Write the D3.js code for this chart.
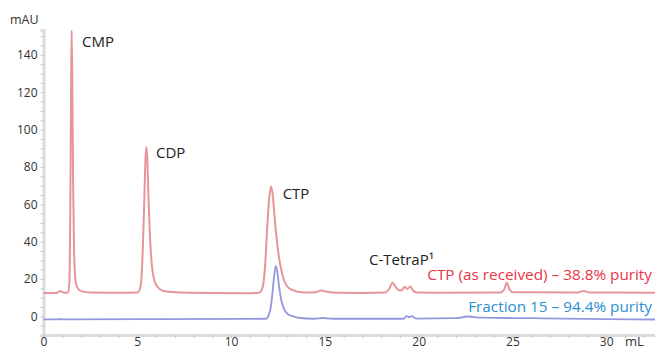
<!DOCTYPE html>
<html>
<head>
<meta charset="utf-8">
<script src="https://cdn.jsdelivr.net/npm/d3@7"></script>
<style>
  body { margin: 0; background: #fff; }
  svg text { font-family: "Open Sans", "Noto Sans", sans-serif; }
</style>
</head>
<body>
<svg id="chart" width="655" height="350"></svg>
<script>
// chromatogram traces: [mL, mAU]
var receivedTrace = [
    [0, 12.5], [0.7, 12.5], [0.85, 13.4], [0.95, 13.3], [1.1, 12.6], [1.3, 12.8],
    [1.38, 18], [1.43, 60], [1.47, 120], [1.5, 153], [1.54, 120], [1.58, 70],
    [1.63, 35], [1.7, 20], [1.8, 15.5], [2.0, 13.5], [2.5, 12.8], [4.0, 12.6],
    [5.0, 12.8], [5.12, 14], [5.22, 20], [5.3, 38], [5.38, 65], [5.44, 85],
    [5.48, 90.5], [5.53, 85], [5.6, 62], [5.68, 42], [5.78, 27], [5.9, 19.5],
    [6.1, 15.5], [6.4, 13.6], [7.0, 12.9], [9.0, 12.5], [11.0, 12.4], [11.5, 12.6],
    [11.65, 14.5], [11.8, 25], [11.93, 48], [12.03, 63], [12.13, 69.5], [12.22, 65],
    [12.33, 52], [12.48, 37], [12.65, 26], [12.85, 18.5], [13.1, 15], [13.5, 13.3],
    [14.0, 12.7], [14.5, 12.9], [14.8, 13.8], [15.1, 13.2], [15.6, 12.6], [17.0, 12.5],
    [18.2, 12.7], [18.45, 15], [18.6, 18], [18.75, 16.2], [18.95, 14], [19.1, 14],
    [19.25, 15.8], [19.4, 14.6], [19.55, 16], [19.7, 13.8], [19.9, 12.7], [21.0, 12.6],
    [24.35, 12.7], [24.55, 14.2], [24.7, 18], [24.85, 14.2], [25.05, 12.9], [28.5, 12.8],
    [28.8, 13.6], [29.1, 12.8], [30.5, 12.8], [32.6, 12.6]
];

var fractionTrace = [
    [0, -1.6], [0.85, -1.6], [0.92, -1.2], [1.0, -1.6], [6.0, -1.5], [11.0, -1.4],
    [11.85, -1.3], [12.0, 0.5], [12.12, 5], [12.22, 14], [12.3, 22], [12.38, 27],
    [12.46, 24], [12.56, 16], [12.68, 8.5], [12.82, 4], [13.0, 1.5], [13.3, 0],
    [13.7, -0.9], [14.4, -1.3], [14.9, -0.9], [15.4, -1.3], [19.2, -1.3], [19.35, 0.1],
    [19.5, -0.4], [19.65, 0.1], [19.85, -1.2], [22.0, -1.0], [22.6, -0.1], [23.3, -0.7],
    [26.0, -1.0], [30.0, -1.5], [32.6, -1.7]
];

var yTicks = [0, 20, 40, 60, 80, 100, 120, 140];
var xTicks = [0, 5, 10, 15, 20, 25, 30];

var peakLabels = [
    { text: "CMP", x: 2.05, y: 144 },
    { text: "CDP", x: 6.0, y: 85 },
    { text: "CTP", x: 12.75, y: 63 },
    { text: "C-TetraP\u00b9", x: 17.35, y: 27.5 }
];

var seriesLabels = [
    { text: "CTP (as received) \u2013 38.8% purity", y: 19.5, color: "#e8353f" },
    { text: "Fraction 15 \u2013 94.4% purity", y: 2.3, color: "#2a8fd0" }
];

var svg = d3.select("#chart");

var x = d3.scaleLinear().domain([0, 32.6]).range([43.5, 655]);
var y = d3.scaleLinear().domain([-10, 153.3]).range([335, 30]);

// minor ticks
svg.append("g")
    .attr("transform", "translate(43.5,0)")
    .call(d3.axisLeft(y).tickValues(d3.range(-5, 151, 5)).tickSize(3).tickFormat(""))
    .call(function (g) {
        g.select(".domain").attr("stroke", "#dcdcdc").attr("stroke-width", 3);
        g.selectAll(".tick line").attr("stroke", "#c4c4c4");
    });

svg.append("g")
    .attr("transform", "translate(0,335)")
    .call(d3.axisBottom(x).tickValues(d3.range(0, 33, 1)).tickSize(3).tickFormat(""))
    .call(function (g) {
        g.select(".domain").attr("stroke", "#dcdcdc").attr("stroke-width", 3);
        g.selectAll(".tick line").attr("stroke", "#c4c4c4");
    });

// labelled ticks
svg.append("g")
    .attr("transform", "translate(43.5,0)")
    .call(d3.axisLeft(y).tickValues(yTicks).tickSize(0).tickPadding(6))
    .call(function (g) {
        g.select(".domain").remove();
        g.selectAll("text").attr("font-size", 12).attr("fill", "#333")
            .attr("font-family", "Open Sans, sans-serif");
    });

svg.append("g")
    .attr("transform", "translate(0,335)")
    .call(d3.axisBottom(x).tickValues(xTicks).tickSize(0).tickPadding(2))
    .call(function (g) {
        g.select(".domain").remove();
        g.selectAll("text").attr("font-size", 12).attr("fill", "#333")
            .attr("font-family", "Open Sans, sans-serif");
    });

svg.append("text")
    .attr("x", 10).attr("y", 24)
    .attr("font-size", 12.5).attr("fill", "#333")
    .text("mAU");

svg.append("text")
    .attr("x", 625).attr("y", 346)
    .attr("font-size", 13).attr("fill", "#333")
    .text("mL");

var line = d3.line()
    .x(function (d) { return x(d[0]); })
    .y(function (d) { return y(d[1]); })
    .curve(d3.curveMonotoneX);

svg.append("path")
    .datum(receivedTrace)
    .attr("d", line)
    .attr("fill", "none")
    .attr("stroke", "#e6959a")
    .attr("stroke-width", 2)
    .attr("stroke-linejoin", "round");

svg.append("path")
    .datum(fractionTrace)
    .attr("d", line)
    .attr("fill", "none")
    .attr("stroke", "#9597dc")
    .attr("stroke-width", 1.8)
    .attr("stroke-linejoin", "round");

svg.selectAll(".peaklabel")
    .data(peakLabels)
    .enter()
    .append("text")
    .classed("peaklabel", true)
    .attr("x", function (d) { return x(d.x); })
    .attr("y", function (d) { return y(d.y); })
    .attr("font-size", 15)
    .attr("fill", "#222")
    .text(function (d) { return d.text; });

svg.selectAll(".serieslabel")
    .data(seriesLabels)
    .enter()
    .append("text")
    .classed("serieslabel", true)
    .attr("x", 652)
    .attr("y", function (d) { return y(d.y); })
    .attr("text-anchor", "end")
    .attr("font-size", 15.3)
    .attr("fill", function (d) { return d.color; })
    .text(function (d) { return d.text; });
</script>
</body>
</html>
